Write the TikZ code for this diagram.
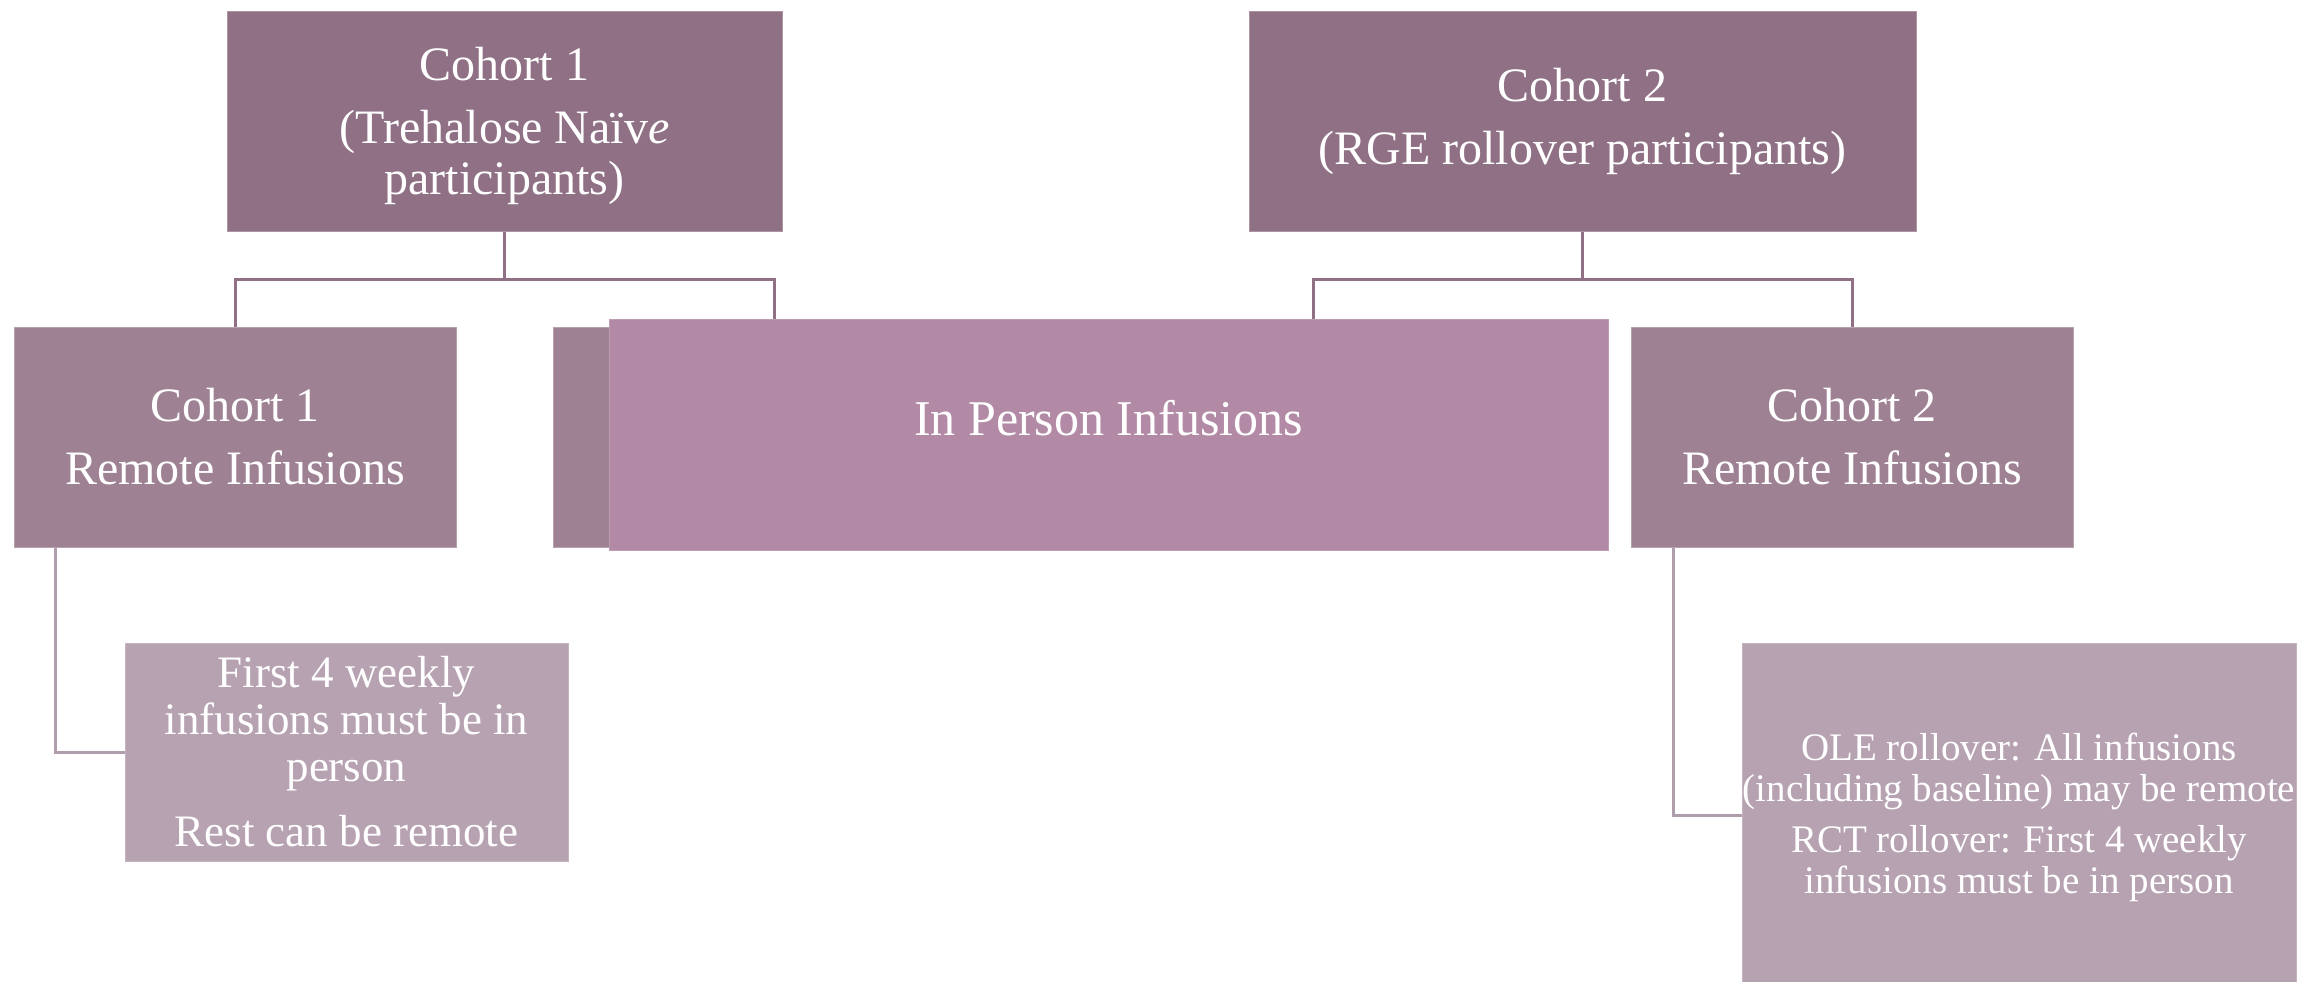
\documentclass[tikz,border=0pt]{standalone}
\usepackage{fontspec}
\setmainfont{Liberation Serif}
\usetikzlibrary{backgrounds}

\definecolor{topfill}{RGB}{143,112,133}
\definecolor{midfill}{RGB}{158,130,148}
\definecolor{ipfill}{RGB}{178,138,165}
\definecolor{lowfill}{RGB}{183,162,178}
\definecolor{uplinkc}{RGB}{143,112,133}
\definecolor{lowlinkc}{RGB}{176,158,172}

\tikzset{
  box/.style={rectangle, inner sep=0pt, text=white, align=center, line width=0.5pt},
  topbox/.style={box, fill=topfill, draw=topfill!75!white, minimum width=#1, minimum height=110pt,
                 font=\fontsize{24}{25.5}\selectfont},
  midbox/.style={box, fill=midfill, draw=midfill!75!white, minimum width=221pt, minimum height=110pt,
                 font=\fontsize{24}{25.5}\selectfont},
  ipbox/.style={box, fill=ipfill, draw=ipfill!85!white, minimum width=499.5pt, minimum height=115.5pt},
  lowbox/.style={box, fill=lowfill, draw=lowfill!80!white},
  label/.style={text=white, align=center, inner sep=0pt},
  uplink/.style={draw=uplinkc, line width=1.5pt},
  lowlink/.style={draw=lowlinkc, line width=1.5pt}
}

\begin{document}
\begin{tikzpicture}[x=0.5pt, y=-0.5pt]
\useasboundingbox (0,0) rectangle (2300,981);

% top level: the two cohorts
\node[topbox=277.5pt] (c1) at (504.5,121) {};
\node[label, font=\fontsize{24}{25.5}\selectfont] (c1t) at ([yshift=-2.5pt]c1.center)
  {Cohort 1\\[6pt](Trehalose Naïv\textit{e}\\participants)};
\node[topbox=333.5pt] (c2) at (1582.5,121)
  {Cohort 2\\[6pt](RGE rollover participants)};

% second level
\node[midbox] (r1) at (235,437) {Cohort 1\\[6pt]Remote Infusions};
\node[midbox] (h1) at (774,437) {};
\node[ipbox] (ip) at (1108.5,434.5) {};
\node[label, font=\fontsize{25}{27}\selectfont] (ipt) at ([yshift=8pt]ip.center) {In Person Infusions};
\node[midbox] (r2) at (1852,437) {Cohort 2\\[6pt]Remote Infusions};
\coordinate (ip2) at (1313,319);

% third level: remote rules
\node[lowbox, minimum width=221.5pt, minimum height=109pt,
      font=\fontsize{22.5}{23.5}\selectfont] (f1) at (346.5,752)
  {First 4 weekly\\infusions must be in\\person\\[9pt]Rest can be remote};
\node[lowbox, minimum width=277pt, minimum height=174pt,
      font=\fontsize{19.5}{20.5}\selectfont] (f2) at (2019,817)
  {OLE rollover: All infusions\\(including baseline) may be remote\\[5pt]RCT rollover: First 4 weekly\\infusions must be in person};

% connectors, kept behind the boxes
\begin{scope}[on background layer]
  \draw[uplink] (c1.south) -- ++(0,48) coordinate (c1j);
  \draw[uplink] (r1.north) |- (c1j) -| (h1.north);
  \draw[uplink] (c2.south) -- ++(0,48) coordinate (c2j);
  \draw[uplink] (ip2) |- (c2j) -| (r2.north);
  \draw[lowlink] ([xshift=21pt]r1.south west) |- (f1.west);
  \draw[lowlink] ([xshift=21.5pt]r2.south west) |- ([yshift=1pt]f2.west);
\end{scope}
\end{tikzpicture}
\end{document}
